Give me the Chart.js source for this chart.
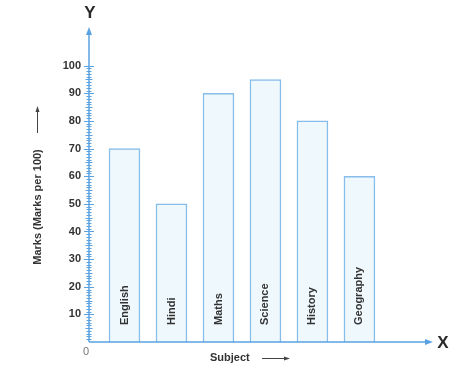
<!DOCTYPE html>
<html>
<head>
<meta charset="utf-8">
<script src="https://cdn.jsdelivr.net/npm/chart.js@4.4.1/dist/chart.umd.min.js"></script>
<style>
  html, body { margin: 0; padding: 0; background: #fff; }
  #wrap { width: 464px; height: 374px; }
</style>
</head>
<body>
<div id="wrap"><canvas id="marksChart"></canvas></div>
<script>
// data
const subjects = ['English', 'Hindi', 'Maths', 'Science', 'History', 'Geography'];
const marks = [70, 50, 90, 95, 80, 60];
const yTicks = [10, 20, 30, 40, 50, 60, 70, 80, 90, 100];

const axisBlue = '#5aa2e2';
const textDark = '#333333';

// draws the axes, arrows, minor ticks and text by hand, using the chart scales
const axesPlugin = {
    id: 'axesPlugin',
    afterDatasetsDraw(chart) {
        const ctx = chart.ctx;
        const area = chart.chartArea;
        const x = chart.scales.x;
        const y = chart.scales.y;
        const x0 = area.left, y0 = y.getPixelForValue(0);

        ctx.save();
        ctx.strokeStyle = axisBlue;
        ctx.fillStyle = axisBlue;
        ctx.lineWidth = 1.5;

        // y axis + arrow
        ctx.beginPath();
        ctx.moveTo(x0, y0);
        ctx.lineTo(x0, area.top + 4);
        ctx.stroke();
        ctx.beginPath();
        ctx.moveTo(x0, area.top);
        ctx.lineTo(x0 - 3, area.top + 8);
        ctx.lineTo(x0 + 3, area.top + 8);
        ctx.closePath();
        ctx.fill();

        // x axis + arrow
        ctx.beginPath();
        ctx.moveTo(x0, y0);
        ctx.lineTo(area.right - 4, y0);
        ctx.stroke();
        ctx.beginPath();
        ctx.moveTo(area.right, y0);
        ctx.lineTo(area.right - 8, y0 - 3);
        ctx.lineTo(area.right - 8, y0 + 3);
        ctx.closePath();
        ctx.fill();

        // ticks on y
        ctx.lineWidth = 1;
        for (let v = 1; v <= 100; v++) {
            const py = Math.round(y.getPixelForValue(v)) + 0.5;
            let len = 2.5;
            if (v % 10 === 0) len = 5;
            else if (v % 5 === 0) len = 3.5;
            ctx.beginPath();
            ctx.moveTo(x0 - len, py);
            ctx.lineTo(x0 + len, py);
            ctx.stroke();
        }

        // y tick labels
        ctx.fillStyle = textDark;
        ctx.font = 'bold 11px "Liberation Sans", Arial, sans-serif';
        ctx.textAlign = 'right';
        ctx.textBaseline = 'middle';
        yTicks.forEach(v => ctx.fillText(String(v), x0 - 8, y.getPixelForValue(v)));

        ctx.fillStyle = '#777';
        ctx.font = '11px "Liberation Sans", Arial, sans-serif';
        ctx.textAlign = 'center';
        ctx.fillText('0', x0 - 3, y0 + 10);

        // subject names inside bars
        ctx.fillStyle = textDark;
        ctx.font = 'bold 11px "Liberation Sans", Arial, sans-serif';
        ctx.textAlign = 'left';
        ctx.textBaseline = 'middle';
        subjects.forEach((s, i) => {
            const px = x.getPixelForValue(i);
            ctx.save();
            ctx.translate(px, y0 - 17);
            ctx.rotate(-Math.PI / 2);
            ctx.fillText(s, 0, 0);
            ctx.restore();
        });

        // axis titles
        ctx.save();
        ctx.translate(38, 207);
        ctx.rotate(-Math.PI / 2);
        ctx.textAlign = 'center';
        ctx.fillText('Marks (Marks per 100)', 0, 0);
        ctx.restore();
        ctx.strokeStyle = '#444';
        ctx.fillStyle = '#444';
        ctx.lineWidth = 1;
        ctx.beginPath();
        ctx.moveTo(37.5, 133);
        ctx.lineTo(37.5, 110);
        ctx.stroke();
        ctx.beginPath();
        ctx.moveTo(37.5, 106);
        ctx.lineTo(35.5, 112);
        ctx.lineTo(39.5, 112);
        ctx.closePath();
        ctx.fill();

        ctx.fillStyle = textDark;
        ctx.textAlign = 'left';
        ctx.fillText('Subject', 210, 358);
        ctx.beginPath();
        ctx.moveTo(262, 358.5);
        ctx.lineTo(285, 358.5);
        ctx.stroke();
        ctx.fillStyle = '#444';
        ctx.beginPath();
        ctx.moveTo(290, 358.5);
        ctx.lineTo(284, 356.5);
        ctx.lineTo(284, 360.5);
        ctx.closePath();
        ctx.fill();

        // X and Y letters
        ctx.fillStyle = '#2a2a2a';
        ctx.font = 'bold 17px "Liberation Sans", Arial, sans-serif';
        ctx.textAlign = 'center';
        ctx.fillText('Y', 90, 13);
        ctx.fillText('X', 443, y0 + 1);
        ctx.restore();
    }
};

new Chart(document.getElementById('marksChart'), {
    type: 'bar',
    data: {
        datasets: [{
            data: marks.map((m, i) => ({ x: i, y: m })),
            backgroundColor: '#eef8fd',
            borderColor: '#86bdea',
            borderWidth: 1.5,
            borderSkipped: 'bottom',
            barThickness: 31
        }]
    },
    options: {
        responsive: true,
        maintainAspectRatio: false,
        animation: false,
        layout: { padding: { left: 89, right: 31, top: 27, bottom: 32 } },
        plugins: { legend: { display: false }, tooltip: { enabled: false } },
        scales: {
            x: { type: 'linear', min: -0.755, max: 6.565, offset: false, display: false },
            y: { type: 'linear', min: 0, max: 114, display: false }
        }
    },
    plugins: [axesPlugin]
});
</script>
</body>
</html>
